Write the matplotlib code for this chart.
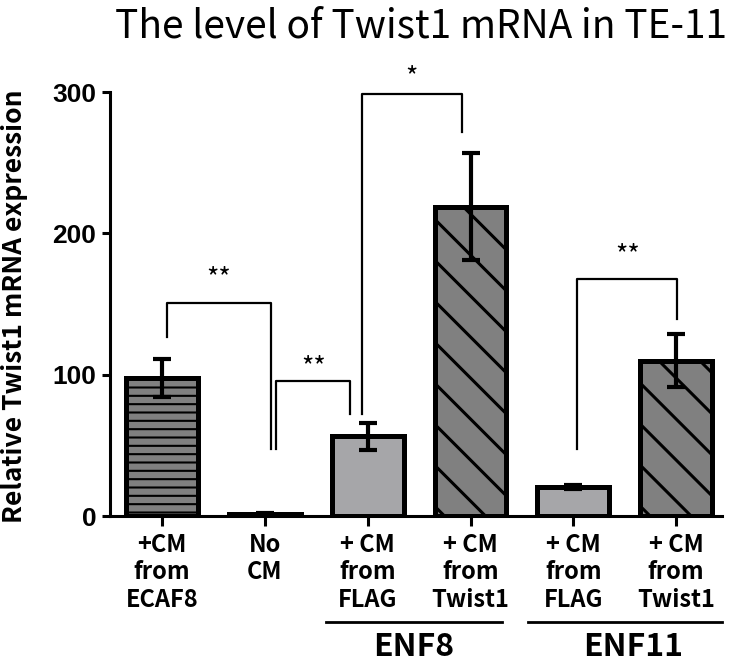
import numpy as np
import matplotlib
matplotlib.use("Agg")
import matplotlib.pyplot as plt
import matplotlib.transforms as mtransforms
from matplotlib.lines import Line2D

# bar data
labels = ["+CM\nfrom\nECAF8", "No\nCM", "+ CM\nfrom\nFLAG", "+ CM\nfrom\nTwist1",
          "+ CM\nfrom\nFLAG", "+ CM\nfrom\nTwist1"]
means = [97.5, 1.5, 56.5, 219.0, 20.5, 110.0]
errors = [13.5, 0.8, 9.5, 37.5, 1.5, 18.5]
fills = ["#808080", "#808080", "#a6a6a9", "#808080", "#a6a6a9", "#808080"]
patterns = ["horiz", None, None, "diag", None, "diag"]

# significance brackets: x left, x right, top, left foot, right foot, stars, star height
brackets = [
    (0.05, 1.06, 150.7, 126.7, 47.4, "**", 168.0),
    (1.11, 1.83, 95.5, 47.4, 72.2, "**", 105.0),
    (1.94, 2.92, 298.7, 72.2, 271.8, "*", 310.0),
    (4.04, 5.01, 167.7, 47.4, 139.4, "**", 184.0),
]

groups = ["ENF8", "ENF11"]
group_spans = [(1.595, 3.307), (3.56, 5.447)]
group_label_x = [2.45, 4.58]

plt.rcParams["font.family"] = ["Noto Sans CJK KR", "DejaVu Sans"]
plt.rcParams["hatch.linewidth"] = 1.5

fig = plt.figure(figsize=(7.29, 6.62), dpi=100)
ax = fig.add_axes([0.151, 0.2205, 0.8395, 0.6405])

x = np.arange(len(means))
bars = ax.bar(x, means, width=0.70, color=fills, edgecolor="black",
              linewidth=3.6, zorder=2)
ax.errorbar(x, means, yerr=errors, fmt="none", ecolor="black", elinewidth=3,
            capsize=6.5, capthick=3, zorder=4)
ax.set_xlim(-0.506, 5.447)
ax.set_ylim(0, 300)


def diag_hatch(bar, step=41):
    # "\" lines drawn in pixel space so they stay at 45 degrees
    x0, y0 = ax.transData.transform((bar.get_x(), 0))
    x1, y1 = ax.transData.transform((bar.get_x() + bar.get_width(), bar.get_height()))
    for c in np.arange(x0 + y0 + 10, x1 + y1 + step, step):
        ln = Line2D([c - y1, c - y0], [y1, y0], color="black", lw=2.2,
                    transform=mtransforms.IdentityTransform(), zorder=3)
        ax.add_artist(ln)
        ln.set_clip_path(bar)


for bar, pat in zip(bars, patterns):
    if pat == "horiz":
        bar.set_hatch("--")
    elif pat == "diag":
        diag_hatch(bar)

for xl, xr, top, lb, rb, stars, sy in brackets:
    ax.plot([xl, xl, xr, xr], [lb, top, top, rb], color="black", lw=1.6,
            clip_on=False, zorder=5)
    ax.text((xl + xr) / 2, sy, stars, ha="center", va="center", fontsize=19,
            clip_on=False)

for sp in ["top", "right"]:
    ax.spines[sp].set_visible(False)
for sp in ["left", "bottom"]:
    ax.spines[sp].set_linewidth(2.2)

ax.set_yticks([0, 100, 200, 300])
ax.set_yticklabels(["0", "100", "200", "300"], family="Liberation Sans",
                   fontweight="bold", fontsize=19)
ax.set_xticks(x)
ax.set_xticklabels(labels, fontweight="bold", fontsize=17, linespacing=1.2)
ax.tick_params(axis="y", length=6, width=2.2, pad=4)
ax.tick_params(axis="x", length=7, width=2.2, pad=5)

trans = ax.get_xaxis_transform()
for name, (a, b), lx in zip(groups, group_spans, group_label_x):
    ax.plot([a, b], [-0.251, -0.251], color="black", lw=2, transform=trans,
            clip_on=False)
    ax.text(lx, -0.331, name, transform=trans, ha="center", va="baseline",
            fontsize=23, fontweight="bold")

fig.text(15 / 729, 0.538, "Relative Twist1 mRNA expression", rotation=90,
         ha="center", va="center", fontsize=19, fontweight="bold")
fig.text(0.578, 1 - 6 / 662, "The level of Twist1 mRNA in TE-11", ha="center",
         va="top", fontsize=28)

fig.savefig("out.png", dpi=100)
